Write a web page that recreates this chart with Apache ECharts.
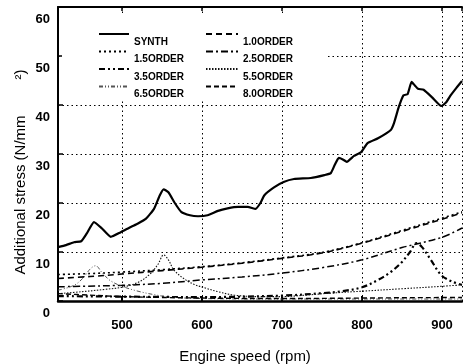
<!DOCTYPE html>
<html>
<head>
<meta charset="utf-8">
<script src="https://cdn.jsdelivr.net/npm/echarts@6/dist/echarts.min.js"></script>
<style>
html,body{margin:0;padding:0;background:#fff;}
#chart{width:463px;height:364px;}
</style>
</head>
<body>
<div id="chart"></div>
<script>
// ---- data (engine speed in rpm, additional stress in N/mm2) ----
const seriesNames = ['SYNTH','1.0ORDER','1.5ORDER','2.5ORDER','3.5ORDER','5.5ORDER','6.5ORDER','8.0ORDER'];
const xTicks = [500, 600, 700, 800, 900];
const yTicks = [0, 10, 20, 30, 40, 50, 60];

const synthRpm = [420,430,440,449,456,465,475,486,498,511,520,530,540,547,552,558,566,574,585,595,607,620,632,645,657,667,673,678,690,702,715,736,753,761,766,771,776,781,790,799,807,820,836,840,846,852,857,862,866,870,877,888,899,905,911,918,925];
const synthVal = [11.0,11.4,12.0,12.2,13.8,16.1,14.8,13.1,14.0,15.1,15.8,16.8,18.8,21.5,22.8,22.2,20.0,18.2,17.5,17.3,17.5,18.4,18.9,19.2,19.2,18.8,20.0,21.6,23.2,24.3,24.9,25.1,25.7,26.1,27.8,29.2,28.9,28.4,29.6,30.4,32.2,33.2,34.9,36.3,39.6,42.0,42.2,44.7,44.0,43.3,43.1,41.5,39.8,40.5,42.0,43.5,44.9];

const order10Rpm = [420,460,500,550,600,650,700,750,800,850,900,925];
const order10Val = [4.6,5.0,5.5,6.2,6.9,7.7,8.7,9.8,11.8,14.2,16.7,18.0];

const order15Rpm = [420,460,500,550,600,650,700,750,800,850,900,925];
const order15Val = [5.4,5.6,5.9,6.4,7.0,7.8,8.8,9.9,11.9,14.4,16.9,18.2];

const order25Rpm = [420,450,500,550,600,650,700,750,800,850,900,925];
const order25Val = [2.9,3.0,3.2,3.6,4.3,4.9,5.7,6.8,8.4,10.9,13.0,14.9];

const order35Rpm = [420,500,600,700,750,775,800,820,835,849,860,868,875,886,899,912,925];
const order35Val = [1.0,0.9,0.8,1.1,1.6,2.0,2.8,4.3,5.8,7.8,10.0,11.8,11.0,8.4,5.3,4.0,3.3];

const order55Rpm = [420,450,480,500,520,535,545,552,558,565,578,590,605,620,640,670,700,730,760,800,850,900,925];
const order55Val = [1.5,1.9,2.4,2.8,3.8,5.5,7.5,9.4,8.4,6.3,4.5,3.4,2.6,1.9,1.2,0.9,0.9,1.2,1.6,2.0,2.5,3.0,3.3];

const order65Rpm = [420,440,452,460,467,475,485,500,520,540,560,600,700,800,925];
const order65Val = [2.2,3.2,4.8,6.5,7.2,5.8,4.2,3.0,2.0,1.3,0.8,0.5,0.4,0.4,0.4];

const order80Rpm = [420,460,500,600,700,800,900,925];
const order80Val = [1.5,1.2,0.9,0.6,0.5,0.6,0.7,0.7];

const zip = (xs, ys) => xs.map((x, i) => [x, ys[i]]);

const FONT = '"Liberation Sans", Arial, Helvetica, sans-serif';
const chart = echarts.init(document.getElementById('chart'), null, {renderer: 'canvas'});

const styles = {
  'SYNTH':    {type: 'solid', width: 2.2, color: '#000'},
  '1.0ORDER': {type: [6, 4], width: 1.6, color: '#000'},
  '1.5ORDER': {type: [2, 3], width: 1.6, color: '#000'},
  '2.5ORDER': {type: [7, 3, 2, 3], width: 1.5, color: '#000'},
  '3.5ORDER': {type: [6, 3, 2, 3, 2, 3], width: 2.2, color: '#000'},
  '5.5ORDER': {type: [1.5, 1.5], width: 1.1, color: '#111'},
  '6.5ORDER': {type: [4, 2, 1, 2, 1, 2], width: 1, color: '#555'},
  '8.0ORDER': {type: [5, 3], width: 1.4, color: '#000'}
};
const dataMap = {
  'SYNTH': zip(synthRpm, synthVal),
  '1.0ORDER': zip(order10Rpm, order10Val),
  '1.5ORDER': zip(order15Rpm, order15Val),
  '2.5ORDER': zip(order25Rpm, order25Val),
  '3.5ORDER': zip(order35Rpm, order35Val),
  '5.5ORDER': zip(order55Rpm, order55Val),
  '6.5ORDER': zip(order65Rpm, order65Val),
  '8.0ORDER': zip(order80Rpm, order80Val)
};

const legendText = {
  fontFamily: FONT, fontSize: 10, fontWeight: 'bold', color: '#000',
  rich: {t: {fontFamily: FONT, fontSize: 10, fontWeight: 'bold', color: '#000', lineHeight: 12, padding: [16, 0, 0, 0]}}
};
const legendFmt = name => '{t|' + name + '}';

const option = {
  animation: false,
  backgroundColor: '#fff',
  grid: {left: 58, top: 7, right: 1, bottom: 63, containLabel: false, outerBoundsMode: 'none'},
  legend: [
    {
      data: ['SYNTH', '1.5ORDER', '3.5ORDER', '6.5ORDER'],
      orient: 'vertical', left: 62, top: 13,
      padding: [8, 24, 0, 36],
      itemWidth: 30, itemHeight: 10, itemGap: -8.5,
      backgroundColor: '#fff',
      itemStyle: {opacity: 0},
      formatter: legendFmt,
      textStyle: legendText,
      selectedMode: false
    },
    {
      data: ['1.0ORDER', '2.5ORDER', '5.5ORDER', '8.0ORDER'],
      orient: 'vertical', left: 205, top: 13,
      padding: [8, 35, 0, 0],
      itemWidth: 32, itemHeight: 10, itemGap: -8.5,
      backgroundColor: '#fff',
      itemStyle: {opacity: 0},
      formatter: legendFmt,
      textStyle: legendText,
      selectedMode: false
    }
  ],
  xAxis: [
    {
      type: 'value', min: 420, max: 925, position: 'bottom',
      name: 'Engine speed (rpm)', nameLocation: 'middle', nameGap: 48,
      nameTextStyle: {fontFamily: FONT, fontSize: 15, color: '#000', padding: [0, 30, 0, 0]},
      axisLine: {show: true, lineStyle: {color: '#000', width: 2.5}},
      axisTick: {show: true, inside: true, length: 5, lineStyle: {color: '#000', width: 2}},
      axisLabel: {
        fontFamily: FONT, fontSize: 13, fontWeight: 'bold', color: '#000', margin: 18,
        showMinLabel: false, showMaxLabel: false,
        formatter: v => (xTicks.indexOf(v) >= 0 ? String(v) : '')
      },
      splitLine: {show: true, lineStyle: {color: '#000', type: [1.5, 3], width: 1}}
    },
    {
      type: 'value', min: 420, max: 925, position: 'top',
      axisLine: {show: true, onZero: false, lineStyle: {color: '#000', width: 2}},
      axisTick: {show: true, inside: true, length: 4, lineStyle: {color: '#000', width: 1.5}},
      axisLabel: {show: false},
      splitLine: {show: false}
    }
  ],
  yAxis: {
    type: 'value', min: 0, max: 60, interval: 10,
    name: '{a|Additional stress (N/mm}{b|²)}', nameLocation: 'middle', nameGap: 30,
    nameMoveOverlap: false,
    nameTextStyle: {
      fontFamily: FONT, fontSize: 15, color: '#000', padding: [0, 36, 0, 0],
      rich: {
        a: {fontFamily: FONT, fontSize: 15, color: '#000'},
        b: {fontFamily: FONT, fontSize: 15, color: '#000', padding: [0, 0, 0, 36]}
      }
    },
    axisLine: {show: true, lineStyle: {color: '#000', width: 2}},
    axisTick: {show: true, inside: true, length: 5, lineStyle: {color: '#000', width: 1.5}},
    axisLabel: {
      fontFamily: FONT, fontSize: 13, fontWeight: 'bold', color: '#000', margin: 8,
      verticalAlign: 'top', padding: [6, 0, 0, 0],
      formatter: v => (yTicks.indexOf(v) >= 0 ? String(v) : '')
    },
    splitLine: {show: true, lineStyle: {color: '#000', type: [1.5, 3], width: 1}}
  },
  series: seriesNames.map(n => ({
    name: n,
    type: 'line',
    data: dataMap[n],
    showSymbol: false,
    symbol: 'none',
    smooth: n === 'SYNTH' ? 0.15 : 0.35,
    lineStyle: styles[n],
    itemStyle: {color: styles[n].color},
    z: n === 'SYNTH' ? 5 : 3
  }))
};
chart.setOption(option);
</script>
</body>
</html>
